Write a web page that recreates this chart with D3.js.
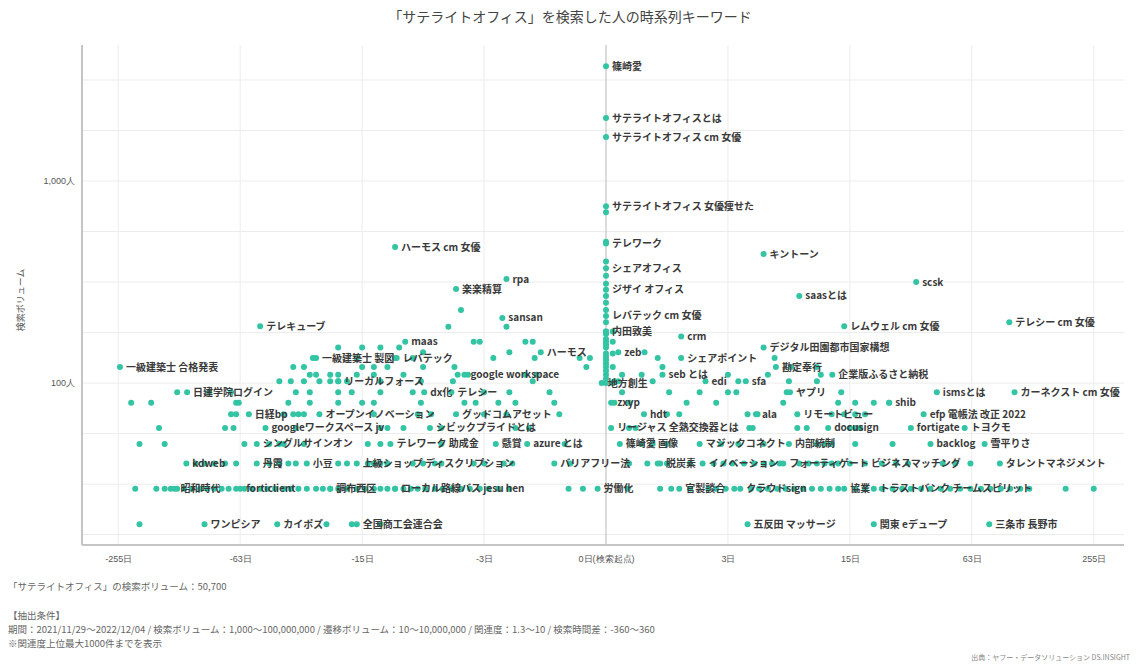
<!DOCTYPE html>
<html><head><meta charset="utf-8">
<script src="https://cdn.jsdelivr.net/npm/d3@7"></script>
<style>body{margin:0;background:#fff;font-family:"Noto Sans CJK JP","Noto Sans",sans-serif}</style>
</head><body><svg id="c" width="1140" height="664"></svg>
<script>
// labeled keywords
const labels = ["篠崎愛","サテライトオフィスとは","サテライトオフィス cm 女優","サテライトオフィス 女優痩せた","テレワーク","シェアオフィス","ジザイ オフィス","レバテック cm 女優","内田敦美","地方創生","zxyp","zeb","リージャス 全熱交換器とは","篠崎愛 画像","労働化",
"一級建築士 合格発表","テレキューブ","ハーモス cm 女優","楽楽精算","rpa","sansan","maas","一級建築士 製図","レバテック","ハーモス","google workspace","リーガルフォース","日建学院ログイン","dx化","テレシー","日経bp","オープンイノベーション","グッドコムアセット","googleワークスペース jv","シビックプライドとは","シングルサインオン","テレワーク 助成金","懸賞","azure とは","kdweb","丹霞","小豆","上級ショップ ディスクリプション","バリアフリー法","昭和時代","forticlient","調布西区","ローカル路線バス jesu hen","ワンピシア","カイポズ","全国商工会連合会",
"キントーン","scsk","saasとは","レムウェル cm 女優","テレシー cm 女優","crm","デジタル田園都市国家構想","シェアポイント","勘定奉行","企業版ふるさと納税","seb とは","edi","sfa","ヤプリ","ismsとは","カーネクスト cm 女優","shib","hdt","ala","リモートビュー","efp 電帳法 改正 2022","docusign","fortigate","トヨクモ","マジックコネクト","内部統制","backlog","雪平りさ","脱炭素","イノベーション","フォーティゲート","ビジネスマッチング","タレントマネジメント","官製談合","クラウドsign","協業","トラストバンク チームスピリット","五反田 マッサージ","関東 eデュープ","三条市 長野市"];
const labelDays = [0,0,0,0,0,0,0,0,0,-0.05,0.06,0.15,0.06,0.17,-0.1,
-250,-50,-10,-4.5,-2.1,-2.25,-8.8,-26,-9.8,-1.1,-4,-20,-116,-6.9,-4.8,-57,-25,-4.5,-47,-6.4,-52,-10.6,-2.5,-1.45,-117,-52,-29,-16,-0.8,-134,-63,-22,-10,-95,-41,-16,
5,33,8,14,97,1.35,5,1.35,5.9,12.1,0.9,2.1,3.9,7.1,42,103,24,0.54,4.5,7.8,36,11.5,31,58,1.9,7,39,73,0.85,2.0,6.5,18,87,1.3,3.6,14,20,4,20,77];
const labelVols = [3700,2050,1650,750,490,370,290,215,180,100,80,142,60,50,30,
120,191,471,292,327,210,160,133,133,142,110,102,90,90,90,70,70,70,60,60,50,50,50,50,40,40,40,40,40,30,30,30,30,20,20,20,
435,316,270,191,200,170,150,133,120,110,110,102,102,90,90,90,80,70,70,70,70,60,60,60,50,50,50,50,40,40,40,40,40,30,30,30,30,20,20,20];
// unlabeled keywords
const extraDays = [0,0,0,0,0,0,0,0,0,0,0,0,0,0,0,0,0,0,0,0,0,0,0,0,0.08,0.08,0.08,0.08,0.08,
-210,-165,-150,-140,-130,-120,-110,-100,-92,-85,-78,-72,-66,-60,-55,-50,-46,-42,-38,-35,-32,-29,-26,-24,-22,-20,-18,-16,-14.5,-13,-12,-11,-10,-9,-8.2,-7.5,-6.8,-6,-5.4,-4.8,-4.2,-3.7,-3.2,-2.8,-2.4,-2,-0.53,-0.3,
0.28,0.85,1.1,1.6,2.2,2.5,2.9,3.3,4.2,4.7,5.3,6,6.7,7.5,8.4,9.4,10.5,11.7,13,16,18,22,25,28,31,35,39,44,49,55,62,70,78,88,98,110,122,185,255,
-105,-95,-85,-75,-66,-45,-40,-36,-33,-20,-18,-14,-13,-12,-11,-8,-7,-6,-5.5,-3.5,-3,-2.2,-1.9,-0.5,0.3,0.6,0.8,1,1.6,2.4,2.8,3.2,3.8,4.4,5,5.6,6.2,8,9,10,11,12,13,15,22,26,30,45,52,62,
-200,-150,-60,-45,-40,-38,-30,-14,-12,-5.5,-0.6,0.5,0.7,1,2.7,3.5,5,10,11,12,16,25,
-160,-75,-68,-33,-12,-11,-9,-5.5,-1.8,-1.4,0.3,0.4,4.1,4.3,7.8,8.8,15,16,17,
-70,-66,-38,-34,-32,-30,-13,-7.5,-6.3,-3,-2.1,-0.7,1,1.3,4,4.6,12,14,16,18,
-66,-64,-36,-28,-20,-15,-13,-7.2,-4,-3.4,-2.4,-1.8,-0.8,0.1,0.3,1.5,2.5,6.5,13,16,20,24,
-130,-90,-70,-33,-28,-20,-17,-12,-8,-3,-2,-0.9,0.2,1.05,1.9,3,3.4,6.8,13.5,
-40,-35,-30,-25,-22,-20,-18,-12,-7.2,-4.7,-1.3,0.1,0.7,0.15,3.5,7,10,
-28,-26,-22,-20,-16,-13,-9,-4.4,-3.8,-1.5,-1.2,0.2,0.5,3,5.3,10.5,
-34,-30,-15,-13,-11,-7,-4.6,-0.25,0.9,7.2,10,
-27,-16,-10,-8,-1.25,0.8,5.8,-0.2,-0.35,-2.6,
-7,-2,0.55,-20,-15,-12,-9.5,-1.5,-1.3,-3.2,-3.5,-2.1,-5,-4.2,-220,-175,-23,-17,-200,-12];
const extraVols = [100,105,110,115,120,125,130,135,140,150,155,160,165,175,180,200,230,250,270,310,340,400,500,700,100,120,140,160,180,
30,30,30,30,30,30,30,30,30,30,30,30,30,30,30,30,30,30,30,30,30,30,30,30,30,30,30,30,30,30,30,30,30,30,30,30,30,30,30,30,30,30,30,30,30,30,30,
30,30,30,30,30,30,30,30,30,30,30,30,30,30,30,30,30,30,30,30,30,30,30,30,30,30,30,30,30,30,30,30,30,30,30,30,30,30,30,30,
40,40,40,40,40,40,40,40,40,40,40,40,40,40,40,40,40,40,40,40,40,40,40,40,40,40,40,40,40,40,40,40,40,40,40,40,40,40,40,40,40,40,40,40,40,40,40,40,40,40,
50,50,50,50,50,50,50,50,50,50,50,50,50,50,50,50,50,50,50,50,50,50,
60,60,60,60,60,60,60,60,60,60,60,60,60,60,60,60,60,60,60,
70,70,70,70,70,70,70,70,70,70,70,70,70,70,70,70,70,70,70,70,
80,80,80,80,80,80,80,80,80,80,80,80,80,80,80,80,80,80,80,80,80,80,
90,90,90,90,90,90,90,90,90,90,90,90,90,90,90,90,90,90,90,
102,102,102,102,102,102,102,102,102,102,102,102,102,102,102,102,102,
110,110,110,110,110,110,110,110,110,110,110,110,110,110,110,110,
120,120,120,120,120,120,120,120,120,120,120,
133,133,133,133,133,133,133,133,133,133,
142,142,142,150,150,150,150,160,160,160,160,190,190,230,80,80,20,20,20,20];
const xTicks = [-255,-63,-15,-3,0,3,15,63,255];
const xTickLabels = ["-255日","-63日","-15日","-3日","0日(検索起点)","3日","15日","63日","255日"];
const yTicks = [100,1000];
const yTickLabels = ["100人","1,000人"];
const yGrid = [17.8,31.6,56.2,100,177.8,316.2,562.3,1000,1778,3162];

const svg = d3.select("#c");
const L=82,R=1124,T=45,B=545;
const x = d3.scaleSymlog().constant(1).domain([-360,360]).range([88,1124]);
const y = d3.scaleLog().domain([15.8,4710]).range([B,T]);
const col="#33c4a4";

svg.append("g").selectAll("line").data(yGrid).join("line")
 .attr("x1",L).attr("x2",R).attr("y1",d=>y(d)).attr("y2",d=>y(d)).attr("stroke","#ececec");
svg.append("g").selectAll("line").data(xTicks).join("line")
 .attr("x1",d=>x(d)).attr("x2",d=>x(d)).attr("y1",T).attr("y2",B).attr("stroke",d=>d===0?"#b8b8b8":"#ececec");
svg.append("line").attr("x1",L).attr("x2",L).attr("y1",T).attr("y2",B).attr("stroke","#c4c4c4").attr("stroke-width",2);
svg.append("line").attr("x1",L).attr("x2",R).attr("y1",B).attr("y2",B).attr("stroke","#c4c4c4").attr("stroke-width",2);

const xa = svg.append("g").attr("transform",`translate(0,${B+6})`)
 .call(d3.axisBottom(x).tickValues(xTicks).tickFormat((d,i)=>xTickLabels[i]).tickSize(0));
xa.select(".domain").remove();
xa.selectAll("text").attr("font-size",9).attr("fill","#555").attr("dy","0.9em");
const ya = svg.append("g").attr("transform",`translate(${L-4},0)`)
 .call(d3.axisLeft(y).tickValues(yTicks).tickFormat((d,i)=>yTickLabels[i]).tickSize(0));
ya.select(".domain").remove();
ya.selectAll("text").attr("font-size",9).attr("fill","#555");

const extra = extraDays.map((d,i)=>({d,v:extraVols[i]}));
const lab = labelDays.map((d,i)=>({d,v:labelVols[i],t:labels[i]}));
svg.append("g").selectAll("circle").data(extra.concat(lab)).join("circle")
 .attr("cx",p=>x(p.d)).attr("cy",p=>y(p.v)).attr("r",3).attr("fill",col);
svg.append("g").selectAll("text").data(lab).join("text")
 .attr("x",p=>x(p.d)+6).attr("y",p=>y(p.v)+3.5).attr("font-size",10).attr("font-weight","bold")
 .attr("fill","#3a3a3a").text(p=>p.t);

svg.append("text").attr("x",570).attr("y",22).attr("text-anchor","middle").attr("font-size",14).attr("fill","#444").text("「サテライトオフィス」を検索した人の時系列キーワード");
svg.append("text").attr("transform","translate(24,300) rotate(-90)").attr("text-anchor","middle").attr("font-size",9).attr("fill","#555").text("検索ボリューム");
const foot=[[8,590,"「サテライトオフィス」の検索ボリューム：50,700"],[8,619,"【抽出条件】"],[8,633,"期間：2021/11/29〜2022/12/04 / 検索ボリューム：1,000〜100,000,000 / 遷移ボリューム：10〜10,000,000 / 関連度：1.3〜10 / 検索時間差：-360〜360"],[8,647,"※関連度上位最大1000件までを表示"]];
svg.append("g").selectAll("text").data(foot).join("text").attr("x",d=>d[0]).attr("y",d=>d[1]).attr("font-size",9.5).attr("fill","#666").text(d=>d[2]);
svg.append("text").attr("x",1130).attr("y",660).attr("text-anchor","end").attr("font-size",7).attr("fill","#888").text("出典：ヤフー・データソリューション DS.INSIGHT");
</script></body></html>
